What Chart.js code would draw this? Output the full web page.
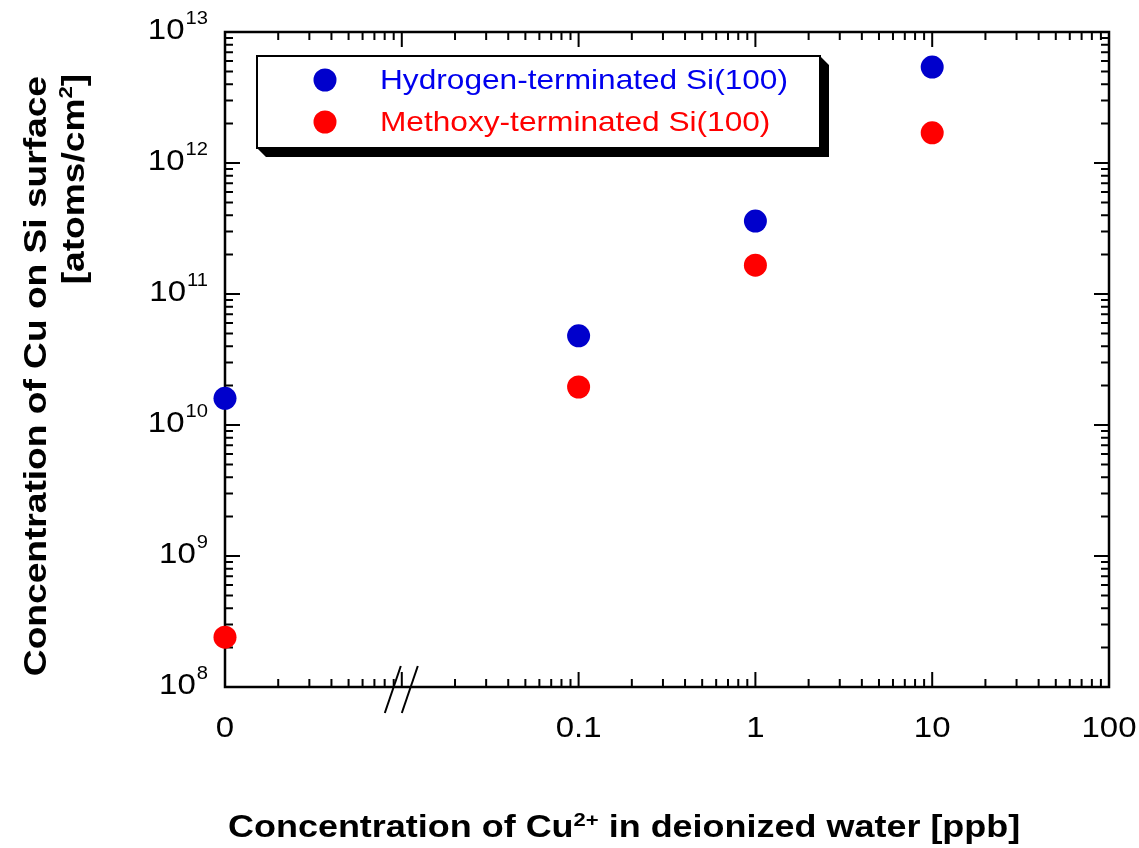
<!DOCTYPE html>
<html>
<head>
<meta charset="utf-8">
<script src="https://cdn.jsdelivr.net/npm/chart.js@4.4.1/dist/chart.umd.min.js"></script>
<style>
  html, body { margin: 0; padding: 0; background: #fff; }
  #wrap { width: 1139px; height: 848px; }
</style>
</head>
<body>
<div id="wrap"><canvas id="chart" width="1139" height="848"></canvas></div>
<script>
// ---------- DATA ----------
const concentrations = [0, 0.1, 1, 10];          // ppb, 0 sits at the left end of the axis
const zeroAt = 0.001;                             // where "0" is placed on the log axis
const hydrogenValues = [1.6e10, 4.8e10, 3.6e11, 5.4e12];
const methoxyValues  = [2.4e8, 1.95e10, 1.66e11, 1.7e12];
const seriesNames  = ['Hydrogen-terminated Si(100)', 'Methoxy-terminated Si(100)'];
const markerColors = ['#0000cc', '#ff0000'];
const textColors   = ['#0000ee', '#ff0000'];
const xTickValues = [0.001, 0.1, 1, 10, 100];
const xTickLabels = ['0', '0.1', '1', '10', '100'];
const yExponents  = [8, 9, 10, 11, 12, 13];
const xMajorTicks = [0.01, 0.1, 1, 10];
const breakAt = 0.01;

const FONT = '"Liberation Sans", Arial, Helvetica, sans-serif';
const SX = 1.16;   // the original lettering is a bit wide

const toPoints = vals => concentrations.map((c, i) => ({ x: c === 0 ? zeroAt : c, y: vals[i] }));

// all 1..9 x 10^n positions between two limits
function logSteps(min, max) {
  const out = [];
  for (let e = Math.floor(Math.log10(min)); e <= Math.ceil(Math.log10(max)); e++) {
    for (let m = 1; m <= 9; m++) {
      const v = m * Math.pow(10, e);
      if (v >= min * 0.999 && v <= max * 1.001) out.push({ v, major: m === 1 });
    }
  }
  return out;
}

// draw text made of pieces (for superscripts), optionally rotated
function rich(ctx, parts, x, y, align, rot) {
  ctx.save();
  let total = 0;
  const widths = parts.map(p => { ctx.font = p.font; const w = ctx.measureText(p.t).width * (p.sx || SX); total += w; return w; });
  ctx.translate(x, y);
  if (rot) ctx.rotate(rot);
  let cur = align === 'right' ? -total : align === 'center' ? -total / 2 : 0;
  parts.forEach((p, i) => {
    ctx.save();
    ctx.font = p.font;
    ctx.fillStyle = p.color || '#000';
    ctx.textAlign = 'left';
    ctx.textBaseline = 'alphabetic';
    ctx.translate(cur, p.dy || 0);
    ctx.scale(p.sx || SX, 1);
    ctx.fillText(p.t, 0, 0);
    ctx.restore();
    cur += widths[i];
  });
  ctx.restore();
}

// ---------- FRAME / TICKS (inward) ----------
const framePlugin = {
  id: 'frame',
  beforeDatasetsDraw(chart) {
    const { ctx, chartArea: a, scales: { x, y } } = chart;
    ctx.save();
    ctx.strokeStyle = '#000';
    ctx.lineWidth = 2.5;
    ctx.lineCap = 'butt';
    ctx.strokeRect(a.left, a.top, a.right - a.left, a.bottom - a.top);

    ctx.lineWidth = 2;
    const major = 15, minor = 8;
    logSteps(x.min, x.max).forEach(s => {
      const px = x.getPixelForValue(s.v);
      if (px <= a.left + 1 || px >= a.right - 1) return;
      const len = xMajorTicks.some(m => Math.abs(m - s.v) < m * 1e-6) ? major : minor;
      ctx.beginPath();
      ctx.moveTo(px, a.bottom); ctx.lineTo(px, a.bottom - len);
      ctx.moveTo(px, a.top);    ctx.lineTo(px, a.top + len);
      ctx.stroke();
    });
    logSteps(y.min, y.max).forEach(s => {
      const py = y.getPixelForValue(s.v);
      if (py <= a.top + 1 || py >= a.bottom - 1) return;
      const len = s.major ? major : minor;
      ctx.beginPath();
      ctx.moveTo(a.left, py);  ctx.lineTo(a.left + len, py);
      ctx.moveTo(a.right, py); ctx.lineTo(a.right - len, py);
      ctx.stroke();
    });
    ctx.restore();
  },
  afterDatasetsDraw(chart) {
    const { ctx, chartArea: a, scales: { x, y } } = chart;

    // axis break marks
    const bx = x.getPixelForValue(breakAt);
    ctx.save();
    ctx.strokeStyle = '#000';
    ctx.lineWidth = 2;
    [-9, 8].forEach(off => {
      ctx.beginPath();
      ctx.moveTo(bx + off - 8, a.bottom + 26);
      ctx.lineTo(bx + off + 8, a.bottom - 21);
      ctx.stroke();
    });
    ctx.restore();

    // x tick labels
    xTickValues.forEach((v, i) => {
      rich(ctx, [{ t: xTickLabels[i], font: '30px ' + FONT, sx: 1.1 }], x.getPixelForValue(v), a.bottom + 50, 'center');
    });

    // y tick labels 10^n
    yExponents.forEach(e => {
      const py = y.getPixelForValue(Math.pow(10, e));
      ctx.save();
      ctx.font = '18px ' + FONT;
      const wExp = ctx.measureText(String(e)).width * 1.12;
      ctx.restore();
      const right = a.left - 17;
      rich(ctx, [{ t: String(e), font: '18px ' + FONT, sx: 1.12 }], right - wExp, py - 8, 'left');
      rich(ctx, [{ t: '10', font: '30px ' + FONT, sx: 1.1 }], right - wExp - 1, py + 7, 'right');
    });

    // axis titles
    const bold = 'bold 31px ' + FONT;
    const boldSup = 'bold 19px ' + FONT;
    rich(ctx, [
      { t: 'Concentration of Cu', font: bold },
      { t: '2+', font: boldSup, dy: -11 },
      { t: ' in deionized water [ppb]', font: bold }
    ], a.left + 3, 837, 'left');

    rich(ctx, [{ t: 'Concentration of Cu on Si surface', font: 'bold 32px ' + FONT }], 46, 76, 'right', -Math.PI / 2);
    rich(ctx, [
      { t: '[atoms/cm', font: 'bold 32px ' + FONT },
      { t: '2', font: 'bold 19px ' + FONT, dy: -12 },
      { t: ']', font: 'bold 32px ' + FONT }
    ], 84, 74, 'right', -Math.PI / 2);

    // legend box with drop shadow
    const L = 257, T = 56, R = 820, B = 148, sh = 9;
    ctx.save();
    ctx.fillStyle = '#000';
    ctx.beginPath();
    ctx.moveTo(R, T); ctx.lineTo(R + sh, T + sh); ctx.lineTo(R + sh, B + sh);
    ctx.lineTo(L + sh, B + sh); ctx.lineTo(L, B); ctx.lineTo(R, B); ctx.closePath();
    ctx.fill();
    ctx.fillStyle = '#fff';
    ctx.fillRect(L, T, R - L, B - T);
    ctx.strokeStyle = '#000';
    ctx.lineWidth = 2;
    ctx.strokeRect(L, T, R - L, B - T);
    seriesNames.forEach((name, i) => {
      const cy = 80 + i * 42;
      ctx.fillStyle = markerColors[i];
      ctx.beginPath();
      ctx.arc(325, cy, 11.5, 0, Math.PI * 2);
      ctx.fill();
      rich(ctx, [{ t: name, font: '28px ' + FONT, color: textColors[i], sx: 1.13 }], 380, cy + 9, 'left');
    });
    ctx.restore();
  }
};

new Chart(document.getElementById('chart'), {
  type: 'scatter',
  data: {
    datasets: [
      { label: seriesNames[0], data: toPoints(hydrogenValues), backgroundColor: markerColors[0], borderWidth: 0, pointRadius: 11.5, pointHoverRadius: 11.5, clip: false },
      { label: seriesNames[1], data: toPoints(methoxyValues),  backgroundColor: markerColors[1], borderWidth: 0, pointRadius: 11.5, pointHoverRadius: 11.5, clip: false }
    ]
  },
  options: {
    responsive: false,
    animation: false,
    events: [],
    layout: { padding: { left: 225, right: 30, top: 32, bottom: 161 } },
    plugins: { legend: { display: false }, tooltip: { enabled: false } },
    scales: {
      x: { type: 'logarithmic', min: zeroAt, max: 100, display: false },
      y: { type: 'logarithmic', min: 1e8, max: 1e13, display: false }
    }
  },
  plugins: [framePlugin]
});
</script>
</body>
</html>
